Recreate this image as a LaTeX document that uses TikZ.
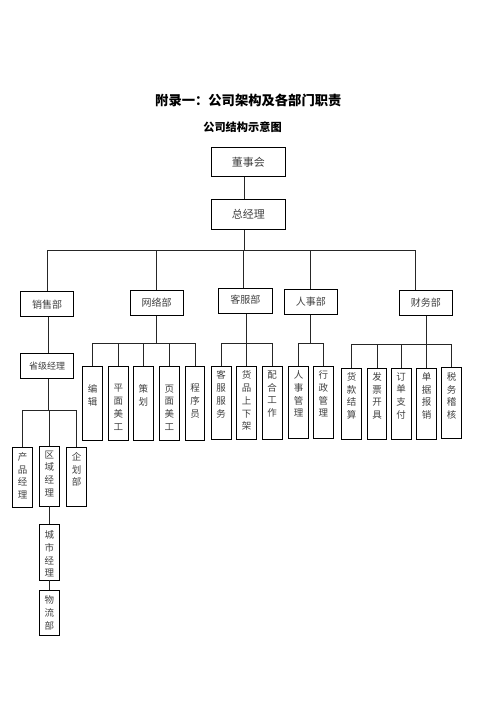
\documentclass[tikz,border=0pt]{standalone}
\usepackage{fontspec}
\setmainfont{Noto Sans CJK SC}
\tikzset{
  boxs/.style={draw, line width=0.9pt, inner sep=0pt, text=black!75},
  hbox/.style={boxs, font=\fontsize{10}{12}\selectfont},
  vboxs/.style={boxs, minimum width=19.6pt},
  vtext/.style={inner sep=0pt, align=center, text=black!75, font=\fontsize{9.5}{12.8}\selectfont},
  conn/.style={line width=0.8pt, black!85}
}
\newcommand{\vcell}[6]{%
  \node[vboxs, minimum height={#4-#3}] (#1) at (#2,{(#3+#4)/2}) {};
  \node[vtext, anchor=north] (#1t) at (#2,{#5-4.6}) {#6};}
\begin{document}
\begin{tikzpicture}[x=1pt,y=-1pt]
\useasboundingbox (0,0) rectangle (496,702);
% titles
\node[font=\bfseries\fontsize{13.3}{15}\selectfont] (title) at (248.3,100) {附录一：公司架构及各部门职责};
\node[font=\bfseries\fontsize{11.2}{13}\selectfont] (sub) at (242.5,126.7) {公司结构示意图};
% top
\node[hbox, font=\fontsize{11}{13}\selectfont, minimum width=73.3pt, minimum height=29.4pt] (dsh) at (248.3,162) {董事会};
\node[hbox, font=\fontsize{11}{13}\selectfont, minimum width=73.3pt, minimum height=30pt] (zjl) at (248.3,214.3) {总经理};
% departments
\node[hbox, minimum width=52.6pt, minimum height=25pt] (xsb) at (47,304.2) {销售部};
\node[hbox, minimum width=53.3pt, minimum height=24.3pt] (wlb) at (156.7,302.9) {网络部};
\node[hbox, minimum width=54pt, minimum height=25pt] (kfb) at (245.3,300.8) {\raisebox{4pt}{客服部}};
\node[hbox, minimum width=53pt, minimum height=24.7pt] (rsb) at (310.8,301.7) {人事部};
\node[hbox, minimum width=53pt, minimum height=24.3pt] (cwb) at (425.8,302.9) {财务部};
\node[hbox, font=\fontsize{9}{11}\selectfont, minimum width=52.6pt, minimum height=25pt] (sjjl) at (47,365.8) {省级经理};
% network children
\vcell{bj}{92.5}{366.7}{440}{389}{编\\辑}
\vcell{pmmg}{118.3}{366.7}{440}{389}{平\\面\\美\\工}
\vcell{ch}{143.3}{366.7}{440}{389}{策\\划}
\vcell{ymmg}{169.3}{366.7}{440}{389}{页\\面\\美\\工}
\vcell{cxy}{195}{366.7}{440}{388}{程\\序\\员}
% service children
\vcell{kffw}{221.2}{366.7}{439.3}{375}{客\\服\\服\\务}
\vcell{hpsxj}{246.5}{366.7}{439.3}{375}{货\\品\\上\\下\\架}
\vcell{phgz}{272.2}{366.7}{439.3}{375}{配\\合\\工\\作}
% HR children
\vcell{rsgl}{298.5}{366.7}{438.3}{375}{人\\事\\管\\理}
\vcell{xzgl}{323.3}{366.7}{438.3}{375}{行\\政\\管\\理}
% finance children
\vcell{hkjs}{351.7}{368.3}{439}{376.7}{货\\款\\结\\算}
\vcell{fpkj}{377}{368.3}{439}{376.7}{发\\票\\开\\具}
\vcell{ddzf}{401.2}{368.3}{439}{376.7}{订\\单\\支\\付}
\vcell{djbx}{426.7}{368.3}{439}{376.7}{单\\据\\报\\销}
\vcell{swjh}{451.7}{367.3}{438.3}{376.7}{税\\务\\稽\\核}
% sales chain
\vcell{cpjl}{22.5}{447.3}{507.3}{456.7}{产\\品\\经\\理}
\vcell{qyjl}{49.3}{446.7}{506}{455}{区\\域\\经\\理}
\vcell{qhb}{76.7}{447.3}{506}{456.7}{企\\划\\部}
\vcell{csjl}{49.3}{524.3}{580}{535}{城\\市\\经\\理}
\vcell{wlbu}{49.3}{590.7}{635}{600}{物\\流\\部}
% connectors
\coordinate (trunk) at (244.5,250);
\coordinate (busL) at (47.8,250);
\coordinate (busR) at (415,250);
\coordinate (kfin) at (243.8,250);
\draw[conn] (dsh.south -| trunk) -- (zjl.north -| trunk);
\draw[conn] (zjl.south -| trunk) -- (trunk);
\draw[conn] (busL) -- (busR);
\draw[conn] (busL) -- (xsb.north -| busL);
\draw[conn] (wlb.north |- busL) -- (wlb.north);
\draw[conn] (kfin) -- (kfb.north -| kfin);
\draw[conn] (rsb.north |- busL) -- (rsb.north);
\draw[conn] (busR) -- (cwb.north -| busR);
% sales
\coordinate (sx) at (48.3,0);
\draw[conn] (xsb.south -| sx) -- (sjjl.north -| sx);
\coordinate (sbus) at (48.3,410);
\draw[conn] (sjjl.south -| sx) -- (sbus);
\draw[conn] (cpjl.north) -- (cpjl.north |- sbus) -- (qhb.north |- sbus) -- (qhb.north);
\draw[conn] (qyjl.north |- sbus) -- (qyjl.north);
\draw[conn] (qyjl.south) -- (csjl.north);
\draw[conn] (csjl.south) -- (wlbu.north);
% network
\coordinate (wbus) at (156.3,343.5);
\draw[conn] (wlb.south -| wbus) -- (wbus);
\draw[conn] (bj.north) -- (bj.north |- wbus) -- (cxy.north |- wbus) -- (cxy.north);
\foreach \n in {pmmg,ch,ymmg} \draw[conn] (\n.north |- wbus) -- (\n.north);
% service
\coordinate (kbus) at (246.5,343.5);
\draw[conn] (kfb.south -| kbus) -- (kbus);
\draw[conn] (kffw.north) -- (kffw.north |- kbus) -- (phgz.north |- kbus) -- (phgz.north);
\draw[conn] (hpsxj.north |- kbus) -- (hpsxj.north);
% HR
\coordinate (rbus) at (310.7,343.5);
\draw[conn] (rsb.south -| rbus) -- (rbus);
\draw[conn] (rsgl.north) -- (rsgl.north |- rbus) -- (xzgl.north |- rbus) -- (xzgl.north);
% finance
\coordinate (fbus) at (426.7,344);
\draw[conn] (cwb.south -| fbus) -- (fbus);
\draw[conn] (hkjs.north) -- (hkjs.north |- fbus) -- (swjh.north |- fbus) -- (swjh.north);
\foreach \n in {fpkj,ddzf,djbx} \draw[conn] (\n.north |- fbus) -- (\n.north);
\end{tikzpicture}
\end{document}
